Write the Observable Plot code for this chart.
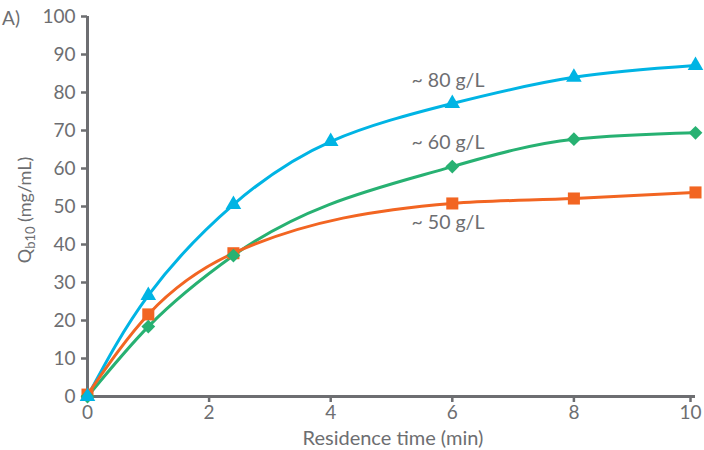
<!DOCTYPE html>
<html>
<head>
<meta charset="utf-8">
<script src="https://cdn.jsdelivr.net/npm/d3@7"></script>
<script src="https://cdn.jsdelivr.net/npm/@observablehq/plot@0.6"></script>
<style>
  html, body { margin: 0; padding: 0; background: #fff; }
  #chart svg { display: block; }
</style>
</head>
<body>
<div id="chart"></div>
<script>
const times = [0, 1, 2.4, 4, 6, 8, 10];
const series80 = [0, 26.6, 50.5, 67.1, 77.1, 84.0, 87.1];
const times60 = [0, 1, 2.4, 6, 8, 10];
const series60 = [0, 18.4, 37.1, 60.5, 67.7, 69.4];
const times50 = [0, 1, 2.4, 6, 8, 10];
const series50 = [0.5, 21.6, 37.7, 50.8, 52.1, 53.7];
const seriesLabels = ["~ 80 g/L", "~ 60 g/L", "~ 50 g/L"];
const labelX = [5.33, 5.33, 5.33];
const labelY = [83.2, 66.8, 45.8];
const xTicks = [0, 2, 4, 6, 8, 10];
const yTicks = [0, 10, 20, 30, 40, 50, 60, 70, 80, 90, 100];

const colors = {c80: "#00b4e4", c60: "#27b172", c50: "#f26522"};
const gray = "#6d6e71";

const d80 = times.map((t, i) => ({t, q: series80[i]}));
const d60 = times60.map((t, i) => ({t, q: series60[i]}));
const d50 = times50.map((t, i) => ({t, q: series50[i]}));
const labels = seriesLabels.map((s, i) => ({s, x: labelX[i], y: labelY[i]}));

const plot = Plot.plot({
  width: 704,
  height: 450,
  marginLeft: 87,
  marginRight: 9,
  marginTop: 16,
  marginBottom: 54,
  style: {fontFamily: "Lato, 'Open Sans', sans-serif", fontSize: "19px", color: gray, background: "#fff"},
  x: {domain: [0, 10], label: null},
  y: {domain: [0, 100], label: null},
  marks: [
    Plot.axisX({ticks: xTicks.slice(0, -1), tickSize: 6, tickPadding: 3, stroke: gray, strokeWidth: 2.5, strokeOpacity: 1, fill: gray, fontSize: 19, label: null}),
    Plot.axisX({ticks: xTicks.slice(-1), tickSize: 6, tickPadding: 3, dx: -5, stroke: gray, strokeWidth: 2.5, strokeOpacity: 1, fill: gray, fontSize: 19, label: null}),
    Plot.axisY({ticks: yTicks, tickSize: 6, tickPadding: 6, stroke: gray, strokeWidth: 2.5, strokeOpacity: 1, fill: gray, fontSize: 19, label: null}),
    Plot.ruleX([0], {stroke: gray, strokeWidth: 3}),
    Plot.ruleY([0], {stroke: gray, strokeWidth: 3}),
    Plot.line(d80, {x: "t", y: "q", stroke: colors.c80, strokeWidth: 3, curve: "natural"}),
    Plot.line(d60, {x: "t", y: "q", stroke: colors.c60, strokeWidth: 3, curve: "monotone-x"}),
    Plot.line(d50, {x: "t", y: "q", stroke: colors.c50, strokeWidth: 3, curve: "monotone-x"}),
    Plot.dot(d50, {x: "t", y: "q", symbol: "square", r: 6.8, fill: colors.c50}),
    Plot.dot(d60, {x: "t", y: "q", symbol: "diamond2", r: 6.2, fill: colors.c60}),
    Plot.dot(d80, {x: "t", y: "q", symbol: "triangle", r: 5.8, fill: colors.c80}),
    Plot.text(labels, {x: "x", y: "y", text: "s", textAnchor: "start", fill: gray, fontSize: 19.5})
  ]
});

const svg = d3.select(plot);
// x axis title
svg.append("text")
  .attr("x", 393).attr("y", 445)
  .attr("text-anchor", "middle")
  .attr("fill", gray)
  .attr("font-size", 20)
  .text("Residence time (min)");
// y axis title with subscript
const yl = svg.append("text")
  .attr("transform", "translate(31,210) rotate(-90)")
  .attr("text-anchor", "middle")
  .attr("fill", gray)
  .attr("font-size", 18);
yl.append("tspan").text("Q");
yl.append("tspan").attr("font-size", 13).attr("dy", 4).text("b10");
yl.append("tspan").attr("dy", -4).text(" (mg/mL)");
// panel label
svg.append("text")
  .attr("x", 11).attr("y", 25)
  .attr("fill", gray)
  .attr("font-size", 19)
  .text("A)");

document.getElementById("chart").appendChild(plot);
</script>
</body>
</html>
